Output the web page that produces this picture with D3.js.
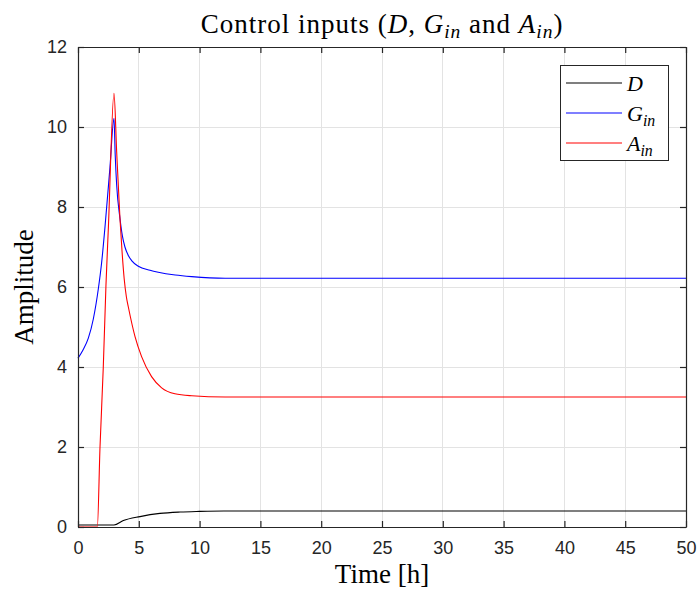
<!DOCTYPE html>
<html>
<head>
<meta charset="utf-8">
<script src="https://cdn.jsdelivr.net/npm/d3@7"></script>
<style>
  html, body { margin: 0; padding: 0; background: #fff; }
  svg { display: block; }
</style>
</head>
<body>
<svg id="chart" width="699" height="591"></svg>
<script>
// ---- data ----
const xTicks = [0, 5, 10, 15, 20, 25, 30, 35, 40, 45, 50];
const yTicks = [0, 2, 4, 6, 8, 10, 12];

const timeD = [0, 2.96, 3.73, 5.1, 6.74, 8.4, 10, 12, 15, 50];
const valD  = [0.05, 0.05, 0.16, 0.26, 0.34, 0.375, 0.39, 0.4, 0.4, 0.4];

const timeG = [0, 0.4, 0.85, 1.26, 1.67, 1.94, 2.22, 2.63, 2.96, 3.06, 3.18, 3.45, 3.65, 3.86, 4.15, 4.41, 4.96, 5.92, 6.6, 8, 9.35, 12.1, 15, 50];
const valG  = [4.22, 4.42, 4.72, 5.2, 5.95, 6.6, 7.5, 9.0, 10.22, 9.3, 8.55, 7.72, 7.28, 7.0, 6.78, 6.66, 6.52, 6.42, 6.37, 6.3, 6.26, 6.22, 6.22, 6.22];

const timeA = [0, 1.59, 1.81, 2.08, 2.3, 2.5, 2.96, 3.18, 3.45, 3.62, 3.8, 3.98, 4.14, 4.69, 5.23, 6.05, 6.88, 7.97, 9.35, 12.1, 15, 50];
const valA  = [0, 0, 2.0, 4.0, 6.05, 7.5, 10.84, 9.38, 7.72, 6.9, 6.2, 5.75, 5.5, 4.76, 4.26, 3.76, 3.48, 3.33, 3.28, 3.25, 3.25, 3.25];

const seriesNames  = ["D", "G", "A"];
const seriesColors = ["#000000", "#0000ff", "#ff0000"];

(function () {
// ---- layout ----
const svg = d3.select("#chart");
const pL = 78, pR = 686, pT = 47, pB = 527;
const x = d3.scaleLinear().domain([0, 50]).range([pL, pR]);
const y = d3.scaleLinear().domain([0, 12]).range([pB, pT]);
const axisColor = "#262626";
const tickFont = "'Liberation Sans', Arial, sans-serif";
const serif = "'Liberation Serif', 'DejaVu Serif', serif";

// grid
const grid = svg.append("g");
grid.selectAll("line.vx").data(xTicks.slice(1, -1)).enter().append("line")
  .attr("x1", d => x(d)).attr("x2", d => x(d))
  .attr("y1", pT).attr("y2", pB)
  .attr("stroke", "#e3e3e3").attr("stroke-width", 1).attr("shape-rendering", "crispEdges");
grid.selectAll("line.hy").data(yTicks.slice(1, -1)).enter().append("line")
  .attr("x1", pL).attr("x2", pR)
  .attr("y1", d => y(d)).attr("y2", d => y(d))
  .attr("stroke", "#e3e3e3").attr("stroke-width", 1).attr("shape-rendering", "crispEdges");

// lines
const line = d3.line().x(d => x(d[0])).y(d => y(d[1])).curve(d3.curveMonotoneX);
const dataSets = [
  d3.zip(timeD, valD),
  d3.zip(timeG, valG),
  d3.zip(timeA, valA)
];
dataSets.forEach((ds, i) => {
  svg.append("path").datum(ds)
    .attr("d", line)
    .attr("fill", "none")
    .style("stroke", seriesColors[i])
    .attr("stroke-width", 1.1)
    .attr("stroke-linejoin", "round");
});

// axes (box with inward ticks on all sides)
const tickLen = 6;
const axB = svg.append("g").attr("transform", `translate(0,${pB})`)
  .call(d3.axisBottom(x).tickValues(xTicks).tickSizeInner(-tickLen).tickSizeOuter(0).tickPadding(14).tickFormat(d3.format("d")));
const axT = svg.append("g").attr("transform", `translate(0,${pT})`)
  .call(d3.axisTop(x).tickValues(xTicks).tickSizeInner(-tickLen).tickSizeOuter(0).tickFormat(""));
const axL = svg.append("g").attr("transform", `translate(${pL},0)`)
  .call(d3.axisLeft(y).tickValues(yTicks).tickSizeInner(-tickLen).tickSizeOuter(0).tickPadding(11).tickFormat(d3.format("d")));
const axR = svg.append("g").attr("transform", `translate(${pR},0)`)
  .call(d3.axisRight(y).tickValues(yTicks).tickSizeInner(-tickLen).tickSizeOuter(0).tickFormat(""));
[axB, axT, axL, axR].forEach(a => {
  a.select(".domain").attr("stroke", axisColor).attr("stroke-width", 1.2);
  a.selectAll(".tick line").attr("stroke", axisColor).attr("stroke-width", 1.2);
  a.selectAll(".tick text").attr("fill", axisColor).attr("font-family", tickFont).attr("font-size", 18);
});

function mathParts(t, parts) {
  parts.forEach(p => {
    const ts = t.append("tspan").text(p.t);
    if (p.i) ts.attr("font-style", "italic");
    if (p.sub) ts.attr("font-size", "0.72em");
    if (p.dy) ts.attr("dy", p.dy);
  });
}

// title
const title = svg.append("text").attr("x", (pL + pR) / 2).attr("y", 33)
  .attr("text-anchor", "middle").attr("font-family", serif).attr("font-size", 27)
  .attr("letter-spacing", 1).attr("fill", "#000");
mathParts(title, [
  {t: "Control inputs ("}, {t: "D", i: true}, {t: ", "},
  {t: "G", i: true}, {t: "in", i: true, sub: true, dy: 5}, {t: " and ", dy: -5},
  {t: "A", i: true}, {t: "in", i: true, sub: true, dy: 5}, {t: ")", dy: -5}
]);

// axis labels
svg.append("text").attr("x", (pL + pR) / 2).attr("y", 583)
  .attr("text-anchor", "middle").attr("font-family", serif).attr("font-size", 27).attr("fill", "#000")
  .text("Time [h]");
svg.append("text").attr("transform", `translate(33,${(pT + pB) / 2}) rotate(-90)`)
  .attr("text-anchor", "middle").attr("font-family", serif).attr("font-size", 27).attr("fill", "#000")
  .text("Amplitude");

// legend
const lg = svg.append("g");
lg.append("rect").attr("x", 560.5).attr("y", 65.5).attr("width", 108).attr("height", 95)
  .attr("fill", "#fff").attr("stroke", axisColor).attr("stroke-width", 1);
const rowY = [83, 113, 143];
seriesNames.forEach((n, i) => {
  lg.append("line").attr("x1", 566).attr("x2", 622).attr("y1", rowY[i]).attr("y2", rowY[i])
    .style("stroke", seriesColors[i]).attr("stroke-width", 1.1);
  const t = lg.append("text").attr("x", 627).attr("y", rowY[i] + 7.5)
    .attr("font-family", serif).attr("font-size", 22).attr("fill", "#000");
  const parts = [{t: n, i: true}];
  if (i > 0) parts.push({t: "in", i: true, sub: true, dy: 5});
  mathParts(t, parts);
});
})();
</script>
</body>
</html>
